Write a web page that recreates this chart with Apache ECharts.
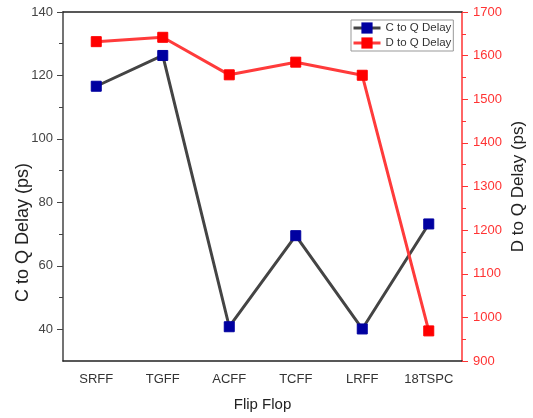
<!DOCTYPE html>
<html><head><meta charset="utf-8">
<script src="https://cdn.jsdelivr.net/npm/echarts@6/dist/echarts.min.js"></script>
<style>html,body{margin:0;padding:0;background:#fff}#c{width:533px;height:418px}</style>
</head><body><div id="c"></div>
<script>
const categories = ['SRFF','TGFF','ACFF','TCFF','LRFF','18TSPC'];
const cToQ = [116.6, 126.3, 40.8, 69.5, 40.1, 73.2];
const dToQ = [1632, 1642, 1556, 1585, 1555, 969];
const leftLabels = [40, 60, 80, 100, 120, 140];
const leftMinor = [50, 70, 90, 110, 130];

const font = 'Liberation Sans, Arial, sans-serif';
const chart = echarts.init(document.getElementById('c'));
const xBase = {type:'category', data:categories, gridIndex:0};
chart.setOption({
  animation:false,
  textStyle:{fontFamily:font},
  grid:{left:63, right:71, top:12, bottom:57, containLabel:false, outerBoundsMode:'none'},
  legend:{
    left:351, top:20, orient:'vertical', itemGap:1, itemWidth:27, itemHeight:14,
    padding:[1,2,1,1], borderColor:'#999', borderWidth:1, backgroundColor:'#fff',
    lineStyle:{width:3},
    textStyle:{fontSize:11.5, color:'#333', fontFamily:font, lineHeight:14},
    data:['C to Q Delay','D to Q Delay']
  },
  xAxis:[
    Object.assign({}, xBase, {position:'bottom', name:'Flip Flop', nameLocation:'middle', nameGap:36,
      nameMoveOverlap:false,
      nameTextStyle:{fontSize:15, color:'#222'},
      axisLine:{lineStyle:{color:'#222', width:1.5}},
      axisTick:{alignWithLabel:true, length:6, lineStyle:{color:'#222'}},
      axisLabel:{margin:12, fontSize:13, color:'#333'}}),
    Object.assign({}, xBase, {position:'bottom',
      axisLine:{show:false}, axisTick:{length:4, lineStyle:{color:'#222'}}, axisLabel:{show:false}}),
    Object.assign({}, xBase, {position:'top',
      axisLine:{lineStyle:{color:'#222', width:1.5}},
      axisTick:{alignWithLabel:true, inside:true, length:6, lineStyle:{color:'#222'}}, axisLabel:{show:false}}),
    Object.assign({}, xBase, {position:'top',
      axisLine:{show:false}, axisTick:{inside:true, length:4, lineStyle:{color:'#222'}}, axisLabel:{show:false}})
  ],
  yAxis:[
    {type:'value', position:'left', min:30, max:140, interval:10,
      name:'C to Q Delay (ps)', nameLocation:'middle', nameGap:31, nameRotate:90,
      nameMoveOverlap:false,
      nameTextStyle:{fontSize:18, color:'#222', padding:[0,92,0,0]},
      splitLine:{show:false},
      axisLine:{show:true, lineStyle:{color:'#444', width:1.5}},
      axisTick:{show:true, length:6, customValues:leftLabels, lineStyle:{color:'#444'}},
      axisLabel:{margin:10, fontSize:13, color:'#444', customValues:leftLabels}},
    {type:'value', position:'left', min:30, max:140, interval:10,
      splitLine:{show:false},
      axisLine:{show:false},
      axisTick:{show:true, length:4, customValues:leftMinor, lineStyle:{color:'#444'}},
      axisLabel:{show:false}},
    {type:'value', position:'right', min:900, max:1700, interval:100,
      name:'D to Q Delay (ps)', nameLocation:'middle', nameGap:48, nameRotate:90,
      nameMoveOverlap:false,
      nameTextStyle:{fontSize:17, color:'#222'},
      splitLine:{show:false},
      axisLine:{show:true, lineStyle:{color:'#ff3333', width:1.5}},
      axisTick:{show:true, length:6, lineStyle:{color:'#ff3333'}},
      minorTick:{show:true, splitNumber:2, length:4, lineStyle:{color:'#ff3333'}},
      axisLabel:{margin:11, fontSize:13, color:'#ff3333', formatter:v => String(v)}}
  ],
  series:[
    {name:'C to Q Delay', type:'line', xAxisIndex:0, yAxisIndex:0, data:cToQ,
      symbol:'rect', symbolSize:10, lineStyle:{color:'#444', width:3},
      itemStyle:{color:'#0000a0', borderColor:'#0000a0'}},
    {name:'D to Q Delay', type:'line', xAxisIndex:0, yAxisIndex:2, data:dToQ,
      symbol:'rect', symbolSize:10, lineStyle:{color:'#ff3b3b', width:3},
      itemStyle:{color:'#ff0000', borderColor:'#ff0000'}}
  ]
});
</script></body></html>
